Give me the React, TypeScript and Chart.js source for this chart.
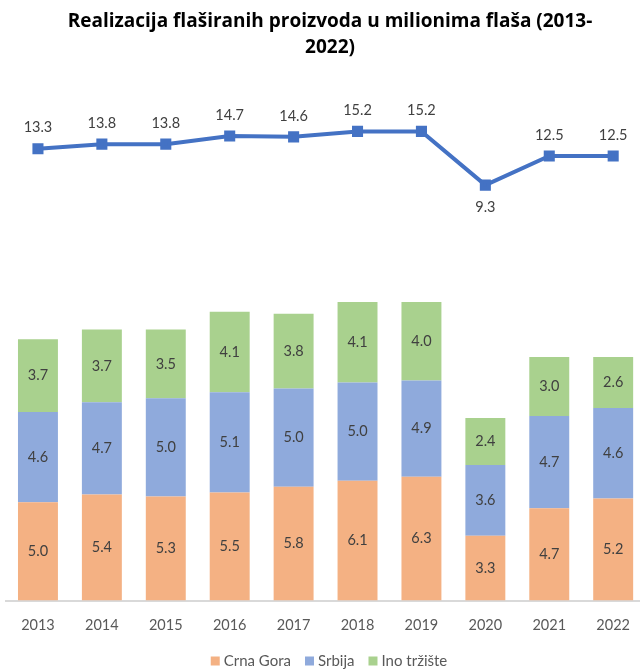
import React, { useEffect, useRef } from "react";
import { Chart, registerables } from "chart.js";

Chart.register(...registerables);

const years = ["2013", "2014", "2015", "2016", "2017", "2018", "2019", "2020", "2021", "2022"];
const crnaGora = [5.0, 5.4, 5.3, 5.5, 5.8, 6.1, 6.3, 3.3, 4.7, 5.2];
const srbija = [4.6, 4.7, 5.0, 5.1, 5.0, 5.0, 4.9, 3.6, 4.7, 4.6];
const inoTrziste = [3.7, 3.7, 3.5, 4.1, 3.8, 4.1, 4.0, 2.4, 3.0, 2.6];
const ukupno = [13.3, 13.8, 13.8, 14.7, 14.6, 15.2, 15.2, 9.3, 12.5, 12.5];
const titleLines = ["Realizacija flaširanih proizvoda u milionima flaša (2013-", "2022)"];

const FONT = "Lato, 'Open Sans', sans-serif";
const TITLE_FONT = "'Open Sans', Lato, sans-serif";

const labelPlugin = {
  id: "valueLabels",
  afterDatasetsDraw(chart: any) {
    const ctx = chart.ctx;
    ctx.save();
    ctx.font = `14.5px ${FONT}`;
    ctx.fillStyle = "#404040";
    ctx.textAlign = "center";
    ctx.textBaseline = "middle";
    chart.data.datasets.forEach((ds: any, i: number) => {
      const meta = chart.getDatasetMeta(i);
      if (meta.hidden) return;
      meta.data.forEach((el: any, j: number) => {
        const v = ds.data[j] as number;
        const txt = v.toFixed(1);
        if (ds.type === "line") {
          const prev = j > 0 ? (ds.data[j - 1] as number) : v;
          const below = v < prev - 2;
          ctx.fillText(txt, el.x, el.y + (below ? 22 : -21));
        } else {
          const p = el.getProps(["x", "y", "base"], true);
          ctx.fillText(txt, p.x, (p.y + p.base) / 2);
        }
      });
    });
    ctx.restore();
  },
};

const titleLegendPlugin = {
  id: "titleLegend",
  afterDraw(chart: any) {
    const ctx = chart.ctx;
    ctx.save();
    ctx.font = `bold 19px ${TITLE_FONT}`;
    ctx.fillStyle = "#000000";
    ctx.textAlign = "center";
    ctx.textBaseline = "middle";
    titleLines.forEach((t, i) => ctx.fillText(t, 330, 22 + i * 26));
    const items = chart.data.datasets.filter((d: any) => d.type !== "line");
    ctx.font = `15px ${FONT}`;
    ctx.textAlign = "left";
    const box = 9;
    const gap = 4;
    const spacing = 14;
    const widths = items.map((d: any) => box + gap + ctx.measureText(d.label).width);
    const total = widths.reduce((a: number, b: number) => a + b, 0) + spacing * (items.length - 1);
    let x = 329 - total / 2;
    const y = 661;
    items.forEach((d: any, i: number) => {
      ctx.fillStyle = d.backgroundColor;
      ctx.fillRect(x, y - box / 2, box, box);
      ctx.fillStyle = "#595959";
      ctx.fillText(d.label, x + box + gap, y);
      x += widths[i] + spacing;
    });
    ctx.restore();
  },
};

export default function App() {
  const ref = useRef<HTMLCanvasElement | null>(null);
  useEffect(() => {
    if (!ref.current) return;
    const chart = new Chart(ref.current, {
      type: "bar",
      data: {
        labels: years,
        datasets: [
          {
            type: "bar",
            label: "Crna Gora",
            data: crnaGora,
            backgroundColor: "#F4B183",
            yAxisID: "y",
            stack: "s",
            order: 1,
            barPercentage: 0.625,
            categoryPercentage: 1,
          },
          {
            type: "bar",
            label: "Srbija",
            data: srbija,
            backgroundColor: "#8FAADC",
            yAxisID: "y",
            stack: "s",
            order: 1,
            barPercentage: 0.625,
            categoryPercentage: 1,
          },
          {
            type: "bar",
            label: "Ino tržište",
            data: inoTrziste,
            backgroundColor: "#A9D18E",
            yAxisID: "y",
            stack: "s",
            order: 1,
            barPercentage: 0.625,
            categoryPercentage: 1,
          },
          {
            type: "line",
            label: "Ukupno",
            data: ukupno,
            borderColor: "#4472C4",
            backgroundColor: "#4472C4",
            borderWidth: 4,
            pointStyle: "rect",
            pointRadius: 5,
            yAxisID: "y1",
            order: 0,
          } as any,
        ],
      },
      options: {
        animation: false,
        responsive: false,
        maintainAspectRatio: false,
        layout: { autoPadding: false, padding: { left: 6, right: 0, top: 80, bottom: 19 } },
        plugins: {
          title: { display: false },
          legend: { display: false },
          tooltip: { enabled: false },
        },
        scales: {
          x: {
            stacked: true,
            grid: { display: false, drawTicks: false },
            border: { display: true, color: "#D9D9D9", width: 2 },
            ticks: { color: "#595959", font: { family: FONT, size: 14.5 }, padding: 16 },
          },
          y: {
            stacked: true,
            display: false,
            min: 0,
            max: 26.5,
          },
          y1: {
            display: false,
            min: -36.3,
            max: 20.84,
          },
        },
      },
      plugins: [labelPlugin, titleLegendPlugin],
    });
    return () => chart.destroy();
  }, []);
  return (
    <div style={{ position: "fixed", left: 0, top: 0, width: 640, height: 669, overflow: "hidden", background: "#fff" }}>
      <canvas ref={ref} width={646} height={669} style={{ position: "absolute", left: 0, top: 0, width: 646, height: 669 }} />
    </div>
  );
}
